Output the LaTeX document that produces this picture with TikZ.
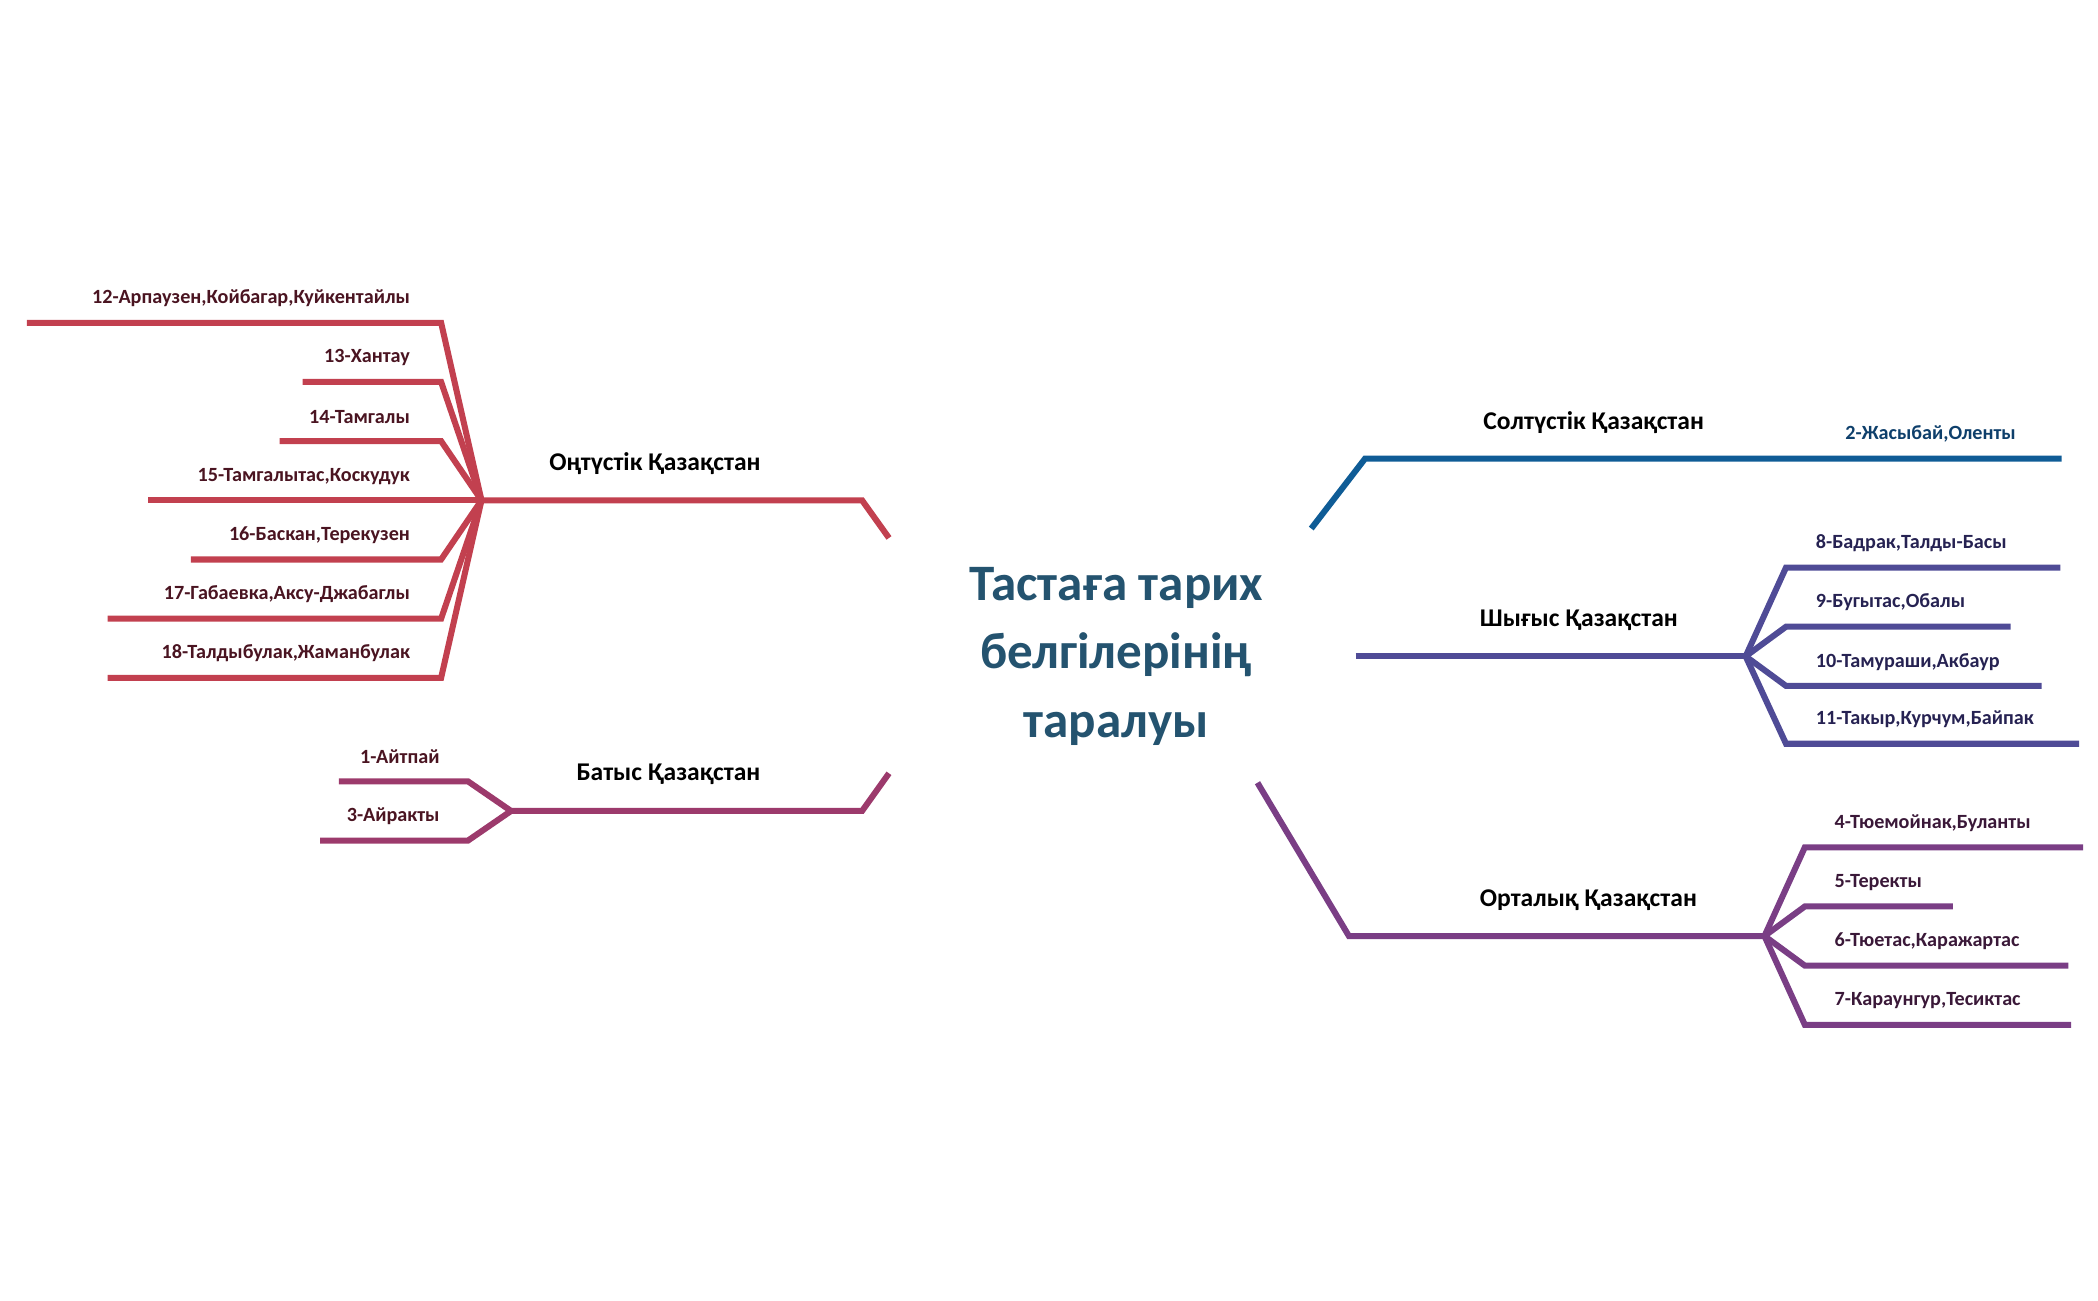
\documentclass[tikz,border=0pt]{standalone}
\usepackage{fontspec}
\setmainfont{Carlito}
\usetikzlibrary{positioning}
\definecolor{south}{HTML}{C2404F}
\definecolor{southtxt}{HTML}{4A1421}
\definecolor{west}{HTML}{9C3A6C}
\definecolor{north}{HTML}{0F5C96}
\definecolor{northtxt}{HTML}{0E3F6B}
\definecolor{east}{HTML}{4F4B96}
\definecolor{easttxt}{HTML}{262252}
\definecolor{centre}{HTML}{7A3E85}
\definecolor{centretxt}{HTML}{3A1838}
\definecolor{titlec}{HTML}{24536F}
\tikzset{%
  branch/.style = {line width=4.5pt, line join=miter},
  region/.style = {font=\bfseries\fontsize{19}{22}\selectfont, inner sep=0pt},
  leafL/.style = {font=\bfseries\fontsize{15}{18}\selectfont, inner sep=0pt, anchor=east},
  leafR/.style = {font=\bfseries\fontsize{15}{18}\selectfont, inner sep=0pt, anchor=west},
  topic/.style = {font=\bfseries\fontsize{38}{51}\selectfont, align=center, text=titlec, inner sep=0pt}
  }
\begin{document}
\begin{tikzpicture}[x=1pt,y=-1pt]
    \useasboundingbox (0,0) rectangle (1560,967);

    \node (title) [topic] at (830,488) {Тастаға тарих\\белгілерінің\\таралуы};

    % south
    \coordinate (sHub) at (358,372);
    \coordinate (sA) at (641,372);
    \coordinate (sB) at (661,400);
    \node (south) [region] at (487,345) {Оңтүстік Қазақстан};
    \draw[branch, south] (sB) -- (sA) -- (sHub);
    \foreach \y/\x/\t in {240/20/12-Арпаузен{,}Койбагар{,}Куйкентайлы,
                          284/225/13-Хантау,
                          328/208/14-Тамгалы,
                          416/142/16-Баскан{,}Терекузен,
                          460/80/17-Габаевка{,}Аксу-Джабаглы,
                          504/80/18-Талдыбулак{,}Жаманбулак} {
      \coordinate (sk\y) at (328,\y);
      \coordinate (se\y) at (\x,\y);
      \draw[branch, south] (sHub) -- (sk\y) -- (se\y);
      \node (sl\y) [leafL, text=southtxt] at (305,\y-18) {\t};
    }
    \coordinate (se372) at (110,372);
    \draw[branch, south] (sHub) -- (se372);
    \node (sl372) [leafL, text=southtxt] at (305,354) {15-Тамгалытас,Коскудук};

    % west
    \coordinate (wHub) at (380,603);
    \coordinate (wA) at (641,603);
    \coordinate (wB) at (661,575);
    \node (west) [region] at (497,576) {Батыс Қазақстан};
    \draw[branch, west] (wB) -- (wA) -- (wHub);
    \foreach \y/\x/\t in {581/252/1-Айтпай, 625/238/3-Айракты} {
      \coordinate (wk\y) at (348,\y);
      \coordinate (we\y) at (\x,\y);
      \draw[branch, west] (wHub) -- (wk\y) -- (we\y);
      \node (wl\y) [leafL, text=southtxt] at (327,\y-18) {\t};
    }

    % north
    \coordinate (nA) at (975,393);
    \coordinate (nB) at (1015,341);
    \coordinate (nC) at (1533,341);
    \node (north) [region] at (1185,314) {Солтүстік Қазақстан};
    \draw[branch, north] (nA) -- (nB) -- (nC);
    \node (nl) [leafR, text=northtxt] at (1372,323) {2-Жасыбай,Оленты};

    % east
    \coordinate (eA) at (1008,488);
    \coordinate (eHub) at (1298,488);
    \node (east) [region] at (1174,461) {Шығыс Қазақстан};
    \draw[branch, east] (eA) -- (eHub);
    \foreach \y/\x/\t in {422/1532/8-Бадрак{,}Талды-Басы,
                          466/1495/9-Бугытас{,}Обалы,
                          510/1518/10-Тамураши{,}Акбаур,
                          553/1546/11-Такыр{,}Курчум{,}Байпак} {
      \coordinate (ek\y) at (1328,\y);
      \coordinate (ee\y) at (\x,\y);
      \draw[branch, east] (eHub) -- (ek\y) -- (ee\y);
      \node (el\y) [leafR, text=easttxt] at (1350,\y-18) {\t};
    }

    % centre
    \coordinate (cA) at (935,582);
    \coordinate (cB) at (1003,696);
    \coordinate (cHub) at (1312,696);
    \node (centre) [region] at (1181,669) {Орталық Қазақстан};
    \draw[branch, centre] (cA) -- (cB) -- (cHub);
    \foreach \y/\x/\t in {630/1549/4-Тюемойнак{,}Буланты,
                          674/1452/5-Теректы,
                          718/1538/6-Тюетас{,}Каражартас,
                          762/1540/7-Караунгур{,}Тесиктас} {
      \coordinate (ck\y) at (1342,\y);
      \coordinate (ce\y) at (\x,\y);
      \draw[branch, centre] (cHub) -- (ck\y) -- (ce\y);
      \node (cl\y) [leafR, text=centretxt] at (1364,\y-18) {\t};
    }
\end{tikzpicture}
\end{document}
